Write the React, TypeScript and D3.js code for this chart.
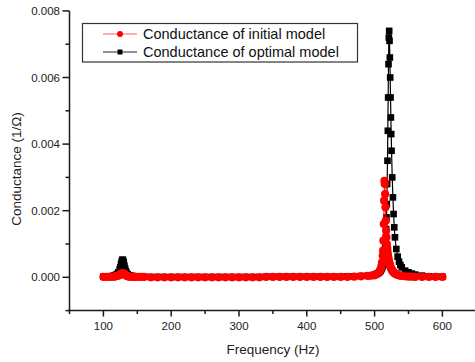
import React from "react";
import * as d3 from "d3";

// ---- data ----
const freqLow = [100,105,110,113,116,118,120,122,124,125,126,127,128,129,130,131,132,133,134,136,138,140,143,146,150,155,160,170,180,190,200,210,220,230,240,250,260,270,280,290,300,310,320,330,340,350,360,370,380,390,400,410,420,430,440,450,460,470,480,490,495];
const optimalLow = [0.00002,0.00002,0.00003,0.00004,0.00005,0.00007,0.0001,0.00015,0.00024,0.0003,0.0004,0.00048,0.00053,0.00052,0.00045,0.00035,0.00026,0.00019,0.00014,0.00009,0.00006,0.00005,0.00004,0.00003,0.00003,0.00002,0.00002,0.00001,0.00001,0.00001,0.00001,0.00001,0.00001,0.00001,0.00001,0.00001,0.00001,0.00001,0.00001,0.00001,0.00001,0.00001,0.00001,0.00001,0.00002,0.00002,0.00002,0.00002,0.00002,0.00002,0.00002,0.00002,0.00002,0.00002,0.00002,0.00002,0.00003,0.00003,0.00004,0.00005,0.00006];
const initialLow = [0.00001,0.00001,0.00001,0.00002,0.00002,0.00003,0.00004,0.00005,0.00007,0.00008,0.0001,0.00011,0.00012,0.00012,0.00011,0.0001,0.00008,0.00006,0.00005,0.00003,0.00002,0.00002,0.00001,0.00001,0.00001,0.00001,0.00001,0,0,0,0,0,0,0,0,0,0,0,0,0,0,0,0,0,0.00001,0.00001,0.00001,0.00001,0.00001,0.00001,0.00001,0.00001,0.00001,0.00001,0.00001,0.00001,0.00001,0.00002,0.00003,0.00004,0.00005];

const freqPeak = [500,503,505,507,508,509,510,511,512,512.5,513,513.5,514,514.5,515,515.5,516,516.5,517,517.5,518,518.5,519,519.5,520,520.5,521,521.5,522,522.5,523,523.5,524,524.5,525,526,527,528,529,530,532,534,536,538,540,545,550,555,560,570,580,590,600];
const optimalPeak = [0.00008,0.0001,0.00012,0.00015,0.00018,0.0002,0.00024,0.00028,0.00034,0.00038,0.00042,0.00047,0.00054,0.00062,0.00072,0.00085,0.001,0.0012,0.00145,0.0018,0.0022,0.0028,0.0035,0.0044,0.0054,0.0064,0.0072,0.0074,0.0071,0.0066,0.006,0.0054,0.0048,0.0043,0.0038,0.003,0.0024,0.0019,0.0015,0.0012,0.00085,0.00062,0.00047,0.00037,0.0003,0.0002,0.00015,0.00011,0.00008,0.00005,0.00003,0.00002,0.00002];
const initialPeak = [0.00006,0.00009,0.00012,0.00017,0.0002,0.00025,0.00033,0.00045,0.00065,0.0008,0.0011,0.0016,0.0023,0.0029,0.0028,0.0025,0.0021,0.0017,0.0014,0.0012,0.001,0.0009,0.0008,0.0007,0.00062,0.00056,0.0005,0.00045,0.00041,0.00037,0.00034,0.00031,0.00028,0.00026,0.00024,0.0002,0.00017,0.00015,0.00013,0.00011,0.00009,0.00007,0.00006,0.00005,0.00004,0.00003,0.00002,0.00002,0.00001,0.00001,0.00001,0.00001,0.00001];

const xTicks = [100,200,300,400,500,600];
const xMinorTicks = [50,150,250,350,450,550,650];
const yTicks = [0,0.002,0.004,0.006,0.008];
const yMinorTicks = [-0.001,0.001,0.003,0.005,0.007];
const seriesNames = ["Conductance of initial model","Conductance of optimal model"];

const W = 475, H = 362;
const FONT = "'Liberation Sans', Arial, sans-serif";

export default function App() {
  const x = d3.scaleLinear().domain([50, 650]).range([69.5, 476.3]);
  const y = d3.scaleLinear().domain([-0.001, 0.008]).range([310.6, 10.9]);

  const freqs = freqLow.concat(freqPeak);
  const initial = initialLow.concat(initialPeak);
  const optimal = optimalLow.concat(optimalPeak);
  const pts = (vals: number[]) => freqs.map((f, i) => [f, vals[i]] as [number, number]);
  const line = d3.line<[number, number]>().x(d => x(d[0])).y(d => y(d[1]));
  const sq = d3.symbol().type(d3.symbolSquare).size(44)() as string;

  const optPts = pts(optimal);
  const iniPts = pts(initial);
  const axisColor = "#1a1a1a";
  const x0 = x(50), yAxisY = y(-0.001);

  return (
    <svg width={W} height={H} style={{ position: "absolute", left: 0, top: 0, background: "#fff" }}>
      <rect width={W} height={H} fill="#fff" />
      {/* optimal (black) series */}
      <path d={line(optPts) || ""} fill="none" stroke="#000" strokeWidth={1.2} />
      {optPts.map((d, i) => (
        <path key={"o" + i} d={sq} transform={`translate(${x(d[0])},${y(d[1])})`} fill="#000" />
      ))}
      {/* initial (red) series */}
      <path d={line(iniPts) || ""} fill="none" stroke="#ff0000" strokeWidth={1} />
      {iniPts.map((d, i) => (
        <circle key={"i" + i} cx={x(d[0])} cy={y(d[1])} r={4.1} fill="#ff0000" />
      ))}

      {/* axes */}
      <line x1={x0} x2={x0} y1={y(0.008)} y2={yAxisY} stroke={axisColor} strokeWidth={1.5} />
      <line x1={x0 - 1} x2={W} y1={yAxisY} y2={yAxisY} stroke={axisColor} strokeWidth={1.5} />
      {yTicks.map(t => (
        <g key={"yt" + t}>
          <line x1={x0 - 7} x2={x0} y1={y(t)} y2={y(t)} stroke={axisColor} strokeWidth={1.5} />
          <text x={60} y={y(t)} dy="0.35em" textAnchor="end" fontFamily={FONT} fontSize={11.5} fill="#222">
            {d3.format(".3f")(t)}
          </text>
        </g>
      ))}
      {yMinorTicks.map(t => (
        <line key={"ym" + t} x1={x0 - 4} x2={x0} y1={y(t)} y2={y(t)} stroke={axisColor} strokeWidth={1.5} />
      ))}
      {xTicks.map(t => (
        <g key={"xt" + t}>
          <line x1={x(t)} x2={x(t)} y1={yAxisY} y2={yAxisY + 6} stroke={axisColor} strokeWidth={1.5} />
          <text x={x(t)} y={330} textAnchor="middle" fontFamily={FONT} fontSize={11.5} fill="#222">
            {t}
          </text>
        </g>
      ))}
      {xMinorTicks.map(t => (
        <line key={"xm" + t} x1={x(t)} x2={x(t)} y1={yAxisY} y2={yAxisY + 3.5} stroke={axisColor} strokeWidth={1.5} />
      ))}

      {/* axis titles */}
      <text x={273} y={353.5} textAnchor="middle" fontFamily={FONT} fontSize={13.5} fill="#222">
        Frequency (Hz)
      </text>
      <text transform={`translate(20.5,169) rotate(-90)`} textAnchor="middle" fontFamily={FONT} fontSize={13.5} fill="#222">
        Conductance (1/Ω)
      </text>

      {/* legend */}
      <rect x={82.5} y={23.5} width={275} height={38.5} fill="#fff" stroke="#333" strokeWidth={1.2} />
      <line x1={103} x2={137} y1={34} y2={34} stroke="#ff6060" strokeWidth={1} />
      <circle cx={120} cy={34} r={3} fill="#ff0000" />
      <text x={143} y={34} dy="0.35em" fontFamily={FONT} fontSize={14.5} fill="#111">{seriesNames[0]}</text>
      <line x1={103} x2={137} y1={52} y2={52} stroke="#222" strokeWidth={1.2} />
      <rect x={117.5} y={49.5} width={5} height={5} fill="#000" />
      <text x={143} y={52} dy="0.35em" fontFamily={FONT} fontSize={14.5} fill="#111">{seriesNames[1]}</text>
    </svg>
  );
}
